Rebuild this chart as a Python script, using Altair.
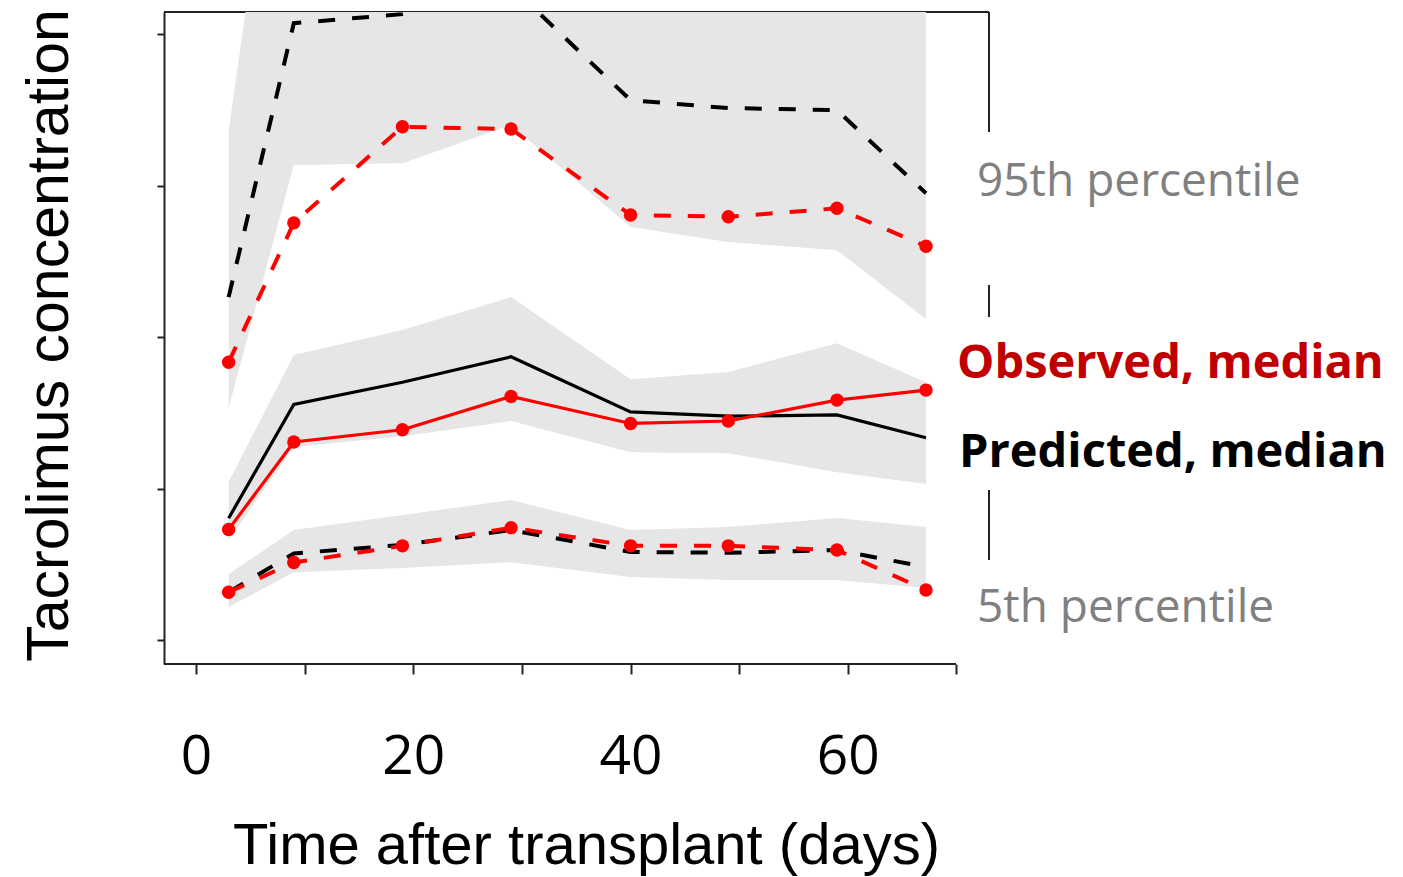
import altair as alt
import pandas as pd

# ---- data ----
days = [3, 9, 19, 29, 40, 49, 59, 67.2]

obs_p95 = [14.17, 18.77, 21.94, 21.87, 19.03, 18.97, 19.25, 18.00]
pred_p95 = [16.32, 25.36, 25.66, 26.57, 22.82, 22.56, 22.49, 19.75]
obs_med = [8.65, 11.54, 11.94, 13.04, 12.15, 12.23, 12.92, 13.25]
pred_med = [9.02, 12.78, 13.51, 14.35, 12.53, 12.39, 12.43, 11.68]
obs_p5 = [6.58, 7.56, 8.11, 8.71, 8.11, 8.11, 7.97, 6.65]
pred_p5 = [6.58, 7.86, 8.14, 8.63, 7.91, 7.88, 7.97, 7.41]

# prediction intervals (shaded)
p95_lo = [12.66, 20.68, 20.74, 22.00, 18.63, 18.14, 17.87, 15.59]
p95_hi = [21.80, 37.0, 37.0, 37.0, 37.0, 37.0, 37.0, 37.0]
med_lo = [8.30, 11.37, 11.73, 12.23, 11.20, 11.17, 10.54, 10.15]
med_hi = [10.22, 14.41, 15.23, 16.32, 13.61, 13.85, 14.80, 13.51]
p5_lo = [6.09, 7.24, 7.38, 7.57, 7.08, 6.98, 6.98, 6.72]
p5_hi = [7.18, 8.63, 9.13, 9.62, 8.63, 8.73, 9.03, 8.73]

x_ticks = [0, 10, 20, 30, 40, 50, 60, 70]
y_ticks = [5, 10, 15, 20, 25]
x_title = "Time after transplant (days)"
y_title = "Tacrolimus concentration"
label_95 = "95th percentile"
label_obs = "Observed, median"
label_pred = "Predicted, median"
label_5 = "5th percentile"

df = pd.DataFrame({
    "day": days,
    "obs_p95": obs_p95, "pred_p95": pred_p95,
    "obs_med": obs_med, "pred_med": pred_med,
    "obs_p5": obs_p5, "pred_p5": pred_p5,
    "p95_lo": p95_lo, "p95_hi": p95_hi,
    "med_lo": med_lo, "med_hi": med_hi,
    "p5_lo": p5_lo, "p5_hi": p5_hi,
})

W, H = 825, 652
xs = alt.Scale(domain=[-2.95, 73.0], nice=False, zero=False)
ys = alt.Scale(domain=[4.21, 25.73], nice=False, zero=False)

AX = "#222222"
x_axis = alt.Axis(
    values=x_ticks,
    labelExpr="datum.value % 20 == 0 ? datum.label : ''",
    domain=False, grid=False,
    tickSize=10, tickWidth=2, tickColor=AX,
    labelFont="Open Sans", labelFontSize=55, labelColor="black",
    labelPadding=56,
    title=x_title, titleFont="Liberation Sans", titleFontSize=58,
    titleFontWeight="normal", titleColor="black",
    titleX=422, titleY=199, titleBaseline="alphabetic", titleAlign="center",
)
y_axis = alt.Axis(
    values=y_ticks, labels=False, grid=False,
    tickSize=7, tickWidth=2, tickColor=AX,
    domainWidth=2, domainColor=AX,
    title=y_title, titleFont="Liberation Sans", titleFontSize=59,
    titleFontWeight="normal", titleColor="black",
    titleX=-97, titleY=323, titleAngle=270,
    titleBaseline="alphabetic", titleAlign="center",
)

X = alt.X("day:Q", scale=xs, axis=x_axis)

def Y(field):
    return alt.Y(f"{field}:Q", scale=ys, axis=y_axis)

base = alt.Chart(df)
one = alt.Chart(pd.DataFrame({"k": [0]}))

frame_top = one.mark_rule(color=AX, strokeWidth=2).encode(
    x=alt.value(0), x2=alt.value(W), y=alt.value(0))

def band(lo, hi):
    return base.mark_area(color="#e6e6e7", clip=True, opacity=1).encode(
        x=X, y=Y(lo), y2=alt.Y2(f"{hi}:Q"))

def line(field, color, dashed):
    kw = dict(color=color, strokeWidth=4 if dashed else 3.2, clip=True)
    if dashed:
        kw["strokeDash"] = [17, 17]
    return base.mark_line(**kw).encode(x=X, y=Y(field))

def dots(field):
    return base.mark_circle(color="#ff0000", size=180, opacity=1).encode(x=X, y=Y(field))

right_segs = [
    one.mark_rule(color=AX, strokeWidth=2).encode(x=alt.value(W), y=alt.value(a), y2=alt.value(b))
    for a, b in [(0, 120), (273, 305), (478, 548)]
]

bottom_rule = one.mark_rule(color=AX, strokeWidth=2).encode(
    x=alt.value(0), x2=alt.value(792), y=alt.value(H))

def label(txt, xp, yp, color, bold, size):
    return one.mark_text(
        text=txt, align="left", baseline="alphabetic", font="Open Sans",
        fontSize=size, fontWeight="bold" if bold else "normal", color=color,
    ).encode(x=alt.value(xp), y=alt.value(yp))

layers = [
    frame_top,
    band("p95_lo", "p95_hi"), band("med_lo", "med_hi"), band("p5_lo", "p5_hi"),
    line("pred_p95", "black", True), line("obs_p95", "#ff0000", True),
    line("pred_med", "black", False), line("obs_med", "#ff0000", False),
    line("pred_p5", "black", True), line("obs_p5", "#ff0000", True),
    dots("obs_p95"), dots("obs_med"), dots("obs_p5"),
    *right_segs, bottom_rule,
    label(label_95, 813, 184, "#808080", False, 46),
    label(label_obs, 793, 366, "#c00000", True, 47),
    label(label_pred, 795, 455, "black", True, 47),
    label(label_5, 813, 610, "#808080", False, 46),
]

chart = alt.layer(*layers).properties(
    width=W, height=H,
    autosize=alt.AutoSizeParams(type="none"),
    padding={"left": 156, "top": 4, "right": 400, "bottom": 212},
    background="white",
).configure_view(stroke=None)

chart.save("out.html", embed_options={"renderer": "svg", "actions": False})
